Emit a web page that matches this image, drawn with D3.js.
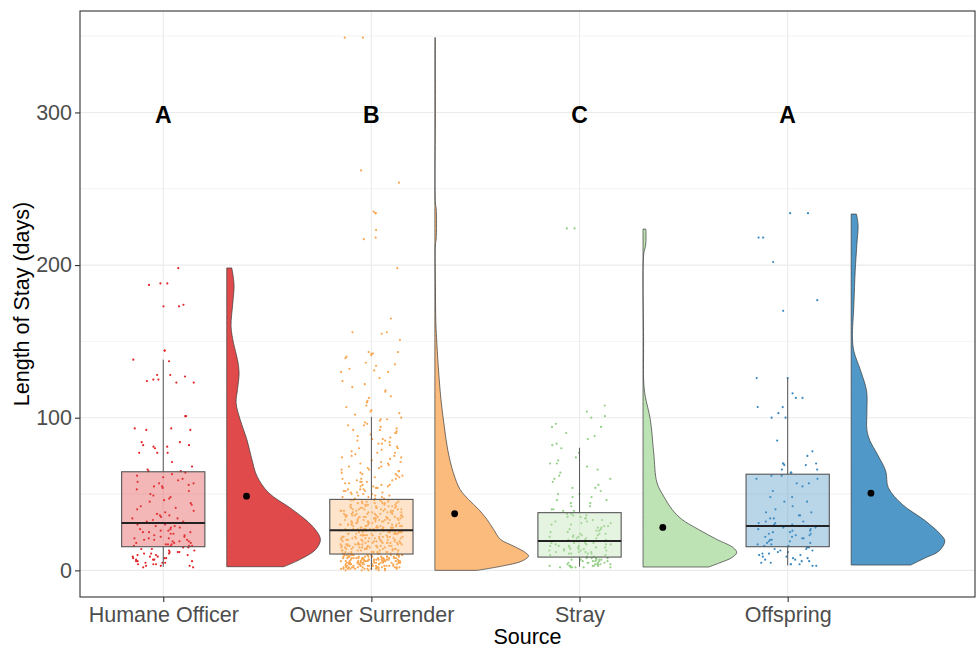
<!DOCTYPE html>
<html>
<head>
<meta charset="utf-8">
<script src="https://cdn.jsdelivr.net/npm/d3@7"></script>
<style>
  html, body { margin: 0; padding: 0; background: #fff; }
  svg { display: block; font-family: "Liberation Sans", Arial, sans-serif; }
</style>
</head>
<body>
<svg id="chart" width="977" height="648"></svg>
<script>
// ---------------- DATA ----------------
const categories = ["Humane Officer", "Owner Surrender", "Stray", "Offspring"];
const sigLetters = ["A", "B", "C", "A"];
const sigLetterLevel = 300;
const yTicks = [0, 100, 200, 300];
const yMinorTicks = [50, 150, 250, 350];

// box plot statistics (days)
const boxQ1 = [15.5, 10.7, 8.7, 15.5];
const boxMedian = [31, 26.2, 19.2, 29];
const boxQ3 = [64.6, 46.5, 37.8, 63];
const whiskerLow = [2.4, 0.2, 2.4, 3.3];
const whiskerHigh = [138, 100.6, 80.3, 126];
const groupMeans = [48.6, 37.1, 28.1, 50.6];

// half-violin density profiles: [days, relative width]
const violinHO = [[2.4,0.61],[7.2,0.785],[13.7,0.95],[20.3,1.0],[29,0.914],[39.9,0.70],[50.8,0.448],[61.7,0.323],[72.6,0.269],[85.7,0.215],[98.8,0.143],[109.7,0.10],[118.5,0.115],[129.4,0.132],[138,0.115],[149,0.072],[159.9,0.046],[175.2,0.065],[187.2,0.078],[198.1,0.054]];
const violinOS = [[0,0.45],[2.8,0.717],[6.1,0.93],[9.4,1.0],[11.6,0.968],[15.9,0.84],[20.3,0.70],[26.8,0.627],[33.4,0.556],[40,0.466],[46.5,0.358],[53,0.269],[64,0.197],[79,0.137],[94.5,0.10],[112,0.065],[133.7,0.036],[152.5,0.018],[163,0.010],[185,0.006],[214,0.006],[217,0.014],[237,0.014],[240,0.006],[300,0.005],[349,0.005]];
const violinStray = [[2.2,0.70],[5,0.822],[8.3,0.947],[11.6,1.0],[14.8,0.965],[20.3,0.787],[26.8,0.593],[33.4,0.415],[40,0.309],[48.6,0.22],[57.4,0.149],[77,0.114],[98.8,0.078],[114,0.024],[122.8,0.008],[150,0.006],[207,0.007],[213,0.028],[219,0.032],[223.6,0.03]];
const violinOff = [[3.5,0.635],[8.3,0.795],[12.6,0.936],[19.2,1.0],[23.6,0.954],[32.3,0.795],[43.2,0.546],[54.1,0.397],[65,0.369],[76,0.28],[85,0.2],[92,0.168],[104,0.168],[117.4,0.165],[130.5,0.103],[143.6,0.029],[152.3,0.014],[174,0.029],[196,0.043],[213.4,0.061],[226.4,0.074],[233.4,0.056]];

// individual stays as [days, number of animals]
const pointsHO = [[198,1],[188,2],[187,1],[174,1],[173,2],[144,2],[138,1],[137,1],[128,2],[127,1],[125,2],[124,1],[123,2],[101,2],[93,2],[92,2],[84,2],[82,2],[81,2],[80,1],[77,3],[71,1],[68,1],[66,1],[65,2],
  [64,1],[63,1],[62,1],[61,1],[60,1],[59,1],[58,1],[57,2],[56,1],[55,2],[54,1],[53,1],[52,1],[50,1],[49,1],[48,1],[47,1],[46,1],[45,1],[44,1],[43,1],[42,1],[41,1],[40,1],[39,1],[38,1],[37,1],[36,2],[35,1],[34,2],[33,1],[32,2],[31,2],
  [30,2],[29,2],[28,2],[27,2],[26,2],[25,3],[24,2],[23,2],[22,2],[21,3],[20,3],[19,3],[18,3],[17,3],[16,4],
  [15,2],[14,2],[13,2],[12,3],[11,3],[10,3],[9,3],[8,3],[7,3],[6,3],[5,3],[4,3],[3,3],[2,2]];
const pointsOS = [[349,2],[262,1],[254,1],[235,1],[234,2],[223,1],[218,1],[217,1],[198,1],[165,1],[156,2],[155,1],[151,1],[143,2],[142,2],[141,1],[140,1],[139,1],[136,1],[135,1],[134,1],[132,1],[131,1],[130,2],[126,1],[124,1],[122,1],[120,1],[118,1],[117,1],[114,1],[113,1],[111,1],[110,1],[108,1],[107,1],[105,1],[104,1],[103,1],[102,1],
  [100,1],[99,2],[98,1],[97,1],[96,1],[95,2],[94,1],[93,1],[92,2],[91,1],[90,2],[89,1],[88,1],[87,1],[86,2],[85,2],[84,1],[83,2],[82,1],[81,1],[80,2],[79,1],[78,1],[77,2],[76,1],[75,2],[74,2],[73,1],[72,1],[71,2],[70,2],[69,1],[68,2],[67,2],[66,2],[65,2],[64,2],[63,2],[62,2],[61,2],[60,3],[59,2],[58,3],[57,2],[56,3],[55,3],[54,3],[53,3],[52,3],[51,3],[50,3],[49,3],[48,3],[47,3],
  [46,5],[45,5],[44,6],[43,6],[42,6],[41,6],[40,7],[39,7],[38,7],[37,7],[36,7],[35,8],[34,8],[33,8],[32,8],[31,8],[30,8],[29,8],[28,9],[27,9],
  [26,9],[25,9],[24,9],[23,9],[22,9],[21,9],[20,9],[19,9],[18,9],[17,9],[16,9],[15,9],[14,9],[13,9],[12,9],[11,9],
  [10,13],[9,13],[8,14],[7,14],[6,15],[5,15],[4,15],[3,15],[2,14],[1,13],[0,5]];
const pointsStray = [[224,2],[108,1],[104,1],[101,1],[100,1],[96,1],[94,2],[90,1],[88,1],[86,1],[83,1],[82,1],
  [80,1],[77,1],[74,1],[72,1],[70,2],[68,1],[66,1],[64,1],[62,1],[60,2],[58,1],[56,1],[54,2],[52,1],[50,2],[48,2],[46,2],[44,2],[42,2],[40,2],[39,2],
  [37,2],[36,2],[35,2],[34,2],[33,2],[32,2],[31,2],[30,2],[29,2],[28,2],[27,2],[26,2],[25,2],[24,3],[23,3],[22,3],[21,3],[20,3],
  [19,4],[18,4],[17,4],[16,4],[15,4],[14,4],[13,4],[12,4],[11,4],[10,2],[9,2],
  [8,5],[7,5],[6,5],[5,5],[4,6],[3,6],[2,6]];
const pointsOff = [[234,2],[218,2],[202,1],[177,1],[170,1],
  [126,2],[116,1],[113,2],[107,2],[103,1],[100,2],[85,1],[78,1],[75,1],[70,3],[69,2],[66,2],[64,2],
  [62,2],[60,2],[57,2],[55,1],[52,1],[48,2],[45,2],[42,1],[40,1],[38,2],[36,2],[34,2],[32,2],[31,2],[30,2],
  [29,3],[28,2],[27,2],[26,2],[25,2],[24,2],[23,2],[22,2],[21,2],[20,2],[19,2],[18,2],[17,2],[16,2],
  [15,2],[14,2],[13,2],[12,2],[11,2],[10,2],[9,2],[8,2],[7,2],[6,2],[5,2],[4,3],[3,2]];

// ---------------- STYLE ----------------
const violinColors = ["#E04A4B", "#FABB7D", "#BDE2B4", "#5098C7"];
const pointColors = ["#E3262A", "#F9A650", "#93CF85", "#3A88C0"];

// ---------------- CHART ----------------
const svg = d3.select("#chart");
const panel = { l: 80, r: 975, t: 11, b: 597 };

const x = d3.scaleLinear().domain([0.6, 4.9]).range([panel.l, panel.r]);
const y = d3.scaleLinear().domain([-17.45, 366.45]).range([panel.b, panel.t]);
const unit = x(1) - x(0);
const wScale = d3.scaleLinear().domain([0, 1]).range([0, 0.45 * unit]);

svg.append("rect").attr("width", 977).attr("height", 648).attr("fill", "#fff");

// grid
const grid = svg.append("g");
grid.selectAll(".minor").data(yMinorTicks).join("line")
  .attr("x1", panel.l).attr("x2", panel.r)
  .attr("y1", d => y(d)).attr("y2", d => y(d))
  .attr("stroke", "#EBEBEB").attr("stroke-width", 0.6);
grid.selectAll(".major").data(yTicks).join("line")
  .attr("x1", panel.l).attr("x2", panel.r)
  .attr("y1", d => y(d)).attr("y2", d => y(d))
  .attr("stroke", "#EBEBEB").attr("stroke-width", 1.1);
grid.selectAll(".vmajor").data(categories).join("line")
  .attr("x1", (d, i) => x(i + 1)).attr("x2", (d, i) => x(i + 1))
  .attr("y1", panel.t).attr("y2", panel.b)
  .attr("stroke", "#EBEBEB").attr("stroke-width", 1.1);

// violins
const violins = [violinHO, violinOS, violinStray, violinOff];
violins.forEach((prof, i) => {
  const left = x(i + 1 + 0.305);
  const area = d3.area()
    .curve(d3.curveCatmullRom.alpha(0.5))
    .y(d => y(d[0]))
    .x0(left)
    .x1(d => left + wScale(d[1]));
  svg.append("path")
    .attr("d", area(prof))
    .attr("fill", violinColors[i])
    .attr("stroke", "#3a3a3a")
    .attr("stroke-width", 0.7);
});

// jittered points
function jit(i, g) {
  const s = Math.sin((i + 1) * 12.9898 + (g + 1) * 78.233) * 43758.5453;
  return (s - Math.floor(s)) * 2 - 1;
}
const pointSets = [pointsHO, pointsOS, pointsStray, pointsOff];
pointSets.forEach((tbl, g) => {
  const vals = [];
  tbl.forEach(([v, c]) => { for (let k = 0; k < c; k++) vals.push(v); });
  svg.append("g").selectAll("circle").data(vals).join("circle")
    .attr("cx", (d, i) => x(g + 1 + 0.15 * jit(i, g)))
    .attr("cy", d => y(d))
    .attr("r", 1.1)
    .attr("fill", pointColors[g]);
});

// boxplots
const bw = 0.2;
categories.forEach((c, i) => {
  const g = svg.append("g");
  const cx = x(i + 1);
  g.append("line").attr("x1", cx).attr("x2", cx)
    .attr("y1", y(boxQ3[i])).attr("y2", y(whiskerHigh[i]))
    .attr("stroke", "#555").attr("stroke-width", 1);
  g.append("line").attr("x1", cx).attr("x2", cx)
    .attr("y1", y(boxQ1[i])).attr("y2", y(whiskerLow[i]))
    .attr("stroke", "#555").attr("stroke-width", 1);
  g.append("rect")
    .attr("x", x(i + 1 - bw)).attr("width", x(i + 1 + bw) - x(i + 1 - bw))
    .attr("y", y(boxQ3[i])).attr("height", y(boxQ1[i]) - y(boxQ3[i]))
    .attr("fill", violinColors[i]).attr("fill-opacity", 0.4)
    .attr("stroke", "#555").attr("stroke-width", 1.1);
  g.append("line")
    .attr("x1", x(i + 1 - bw)).attr("x2", x(i + 1 + bw))
    .attr("y1", y(boxMedian[i])).attr("y2", y(boxMedian[i]))
    .attr("stroke", "#222").attr("stroke-width", 2);
});

// means
svg.append("g").selectAll("circle").data(groupMeans).join("circle")
  .attr("cx", (d, i) => x(i + 1.4))
  .attr("cy", d => y(d))
  .attr("r", 3.4)
  .attr("fill", "#000");

// significance letters
svg.append("g").selectAll("text").data(sigLetters).join("text")
  .attr("x", (d, i) => x(i + 1))
  .attr("y", y(sigLetterLevel))
  .attr("dy", "0.45em")
  .attr("text-anchor", "middle")
  .attr("font-size", 23)
  .attr("font-weight", "bold")
  .attr("fill", "#000")
  .text(d => d);

// panel border
svg.append("rect")
  .attr("x", panel.l).attr("y", panel.t)
  .attr("width", panel.r - panel.l).attr("height", panel.b - panel.t)
  .attr("fill", "none").attr("stroke", "#333").attr("stroke-width", 1.1);

// axes
const yAxis = svg.append("g")
  .attr("transform", `translate(${panel.l},0)`)
  .call(d3.axisLeft(y).tickValues(yTicks).tickSize(5).tickPadding(3));
const xAxis = svg.append("g")
  .attr("transform", `translate(0,${panel.b})`)
  .call(d3.axisBottom(x).tickValues([1, 2, 3, 4]).tickFormat(d => categories[d - 1]).tickSize(5).tickPadding(5));
[yAxis, xAxis].forEach(ax => {
  ax.select(".domain").remove();
  ax.selectAll(".tick line").attr("stroke", "#333").attr("stroke-width", 1.1);
  ax.selectAll(".tick text")
    .attr("fill", "#4D4D4D")
    .attr("font-size", 21.5)
    .attr("font-family", "'Liberation Sans', Arial, sans-serif");
});

// axis titles
svg.append("text")
  .attr("x", (panel.l + panel.r) / 2).attr("y", 644)
  .attr("text-anchor", "middle")
  .attr("font-size", 21.5).attr("fill", "#000")
  .text("Source");
svg.append("text")
  .attr("transform", `translate(29,${(panel.t + panel.b) / 2}) rotate(-90)`)
  .attr("text-anchor", "middle")
  .attr("font-size", 21.5).attr("fill", "#000")
  .text("Length of Stay (days)");
</script>
</body>
</html>
